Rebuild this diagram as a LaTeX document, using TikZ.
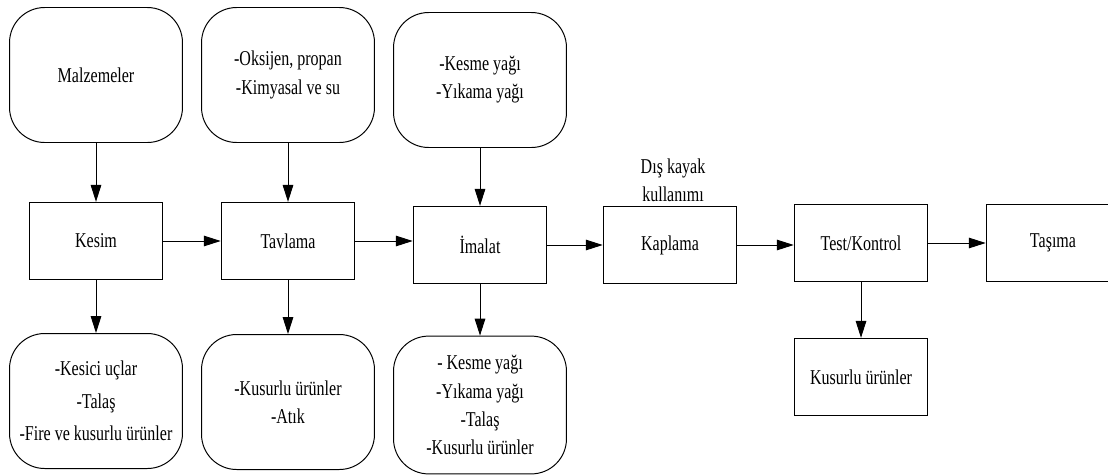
\documentclass[tikz,border=0pt]{standalone}
\usepackage{fontspec}
\setmainfont{Liberation Serif}[FakeStretch=0.76]
\usetikzlibrary{arrows.meta}

\begin{document}
\begin{tikzpicture}[x=0.025cm,y=-0.025cm,line width=0.7pt,
	>={Triangle[length=12pt,width=7.5pt]},
	every node/.style={font=\fontsize{15}{20}\selectfont,align=center},
	procbox/.style={draw,minimum width=95pt,minimum height=55pt},
	resbox/.style={draw,rounded corners=25pt,minimum width=123pt,minimum height=96pt}]
			\useasboundingbox (0,0) rectangle (1108,474);
			% ana akis
			\node[procbox] (kesim) at (96,241) {Kesim};
			\node[procbox] (tavlama) at (288,241) {Tavlama};
			\node[procbox] (imalat) at (480,245) {İmalat};
			\node[procbox] (kaplama) at (670,245) {Kaplama};
			\node[procbox] (test) at (861,243) {Test/Kontrol};
			\node[procbox] (tasima) at (1053,243) {Taşıma};
			% girdiler
			\node[resbox] (malz) at (96,75) {Malzemeler};
			\node[resbox] (oksijen) at (288,75) {-Oksijen, propan\\-Kimyasal ve su};
			\node[resbox] (yaglar) at (480,80) {-Kesme yağı\\-Yıkama yağı};
			\node (diskayak) at (673,180) {Dış kayak\\kullanımı};
			% ciktilar
			\node[resbox,font=\fontsize{15}{23}\selectfont] (kesimout) at (96,401) {-Kesici uçlar\\-Talaş\\-Fire ve kusurlu ürünler};
			\node[resbox] (tavout) at (288,402) {-Kusurlu ürünler\\-Atık};
			\node[resbox,minimum height=98pt] (imout) at (480,405) {- Kesme yağı\\-Yıkama yağı\\-Talaş\\-Kusurlu ürünler};
			\node[procbox] (testout) at (861,377) {Kusurlu ürünler};
			% oklar
			\draw[->] (kesim.east) -- (tavlama.west);
			\draw[->] (tavlama.east) -- (tavlama.east -| imalat.west);
			\draw[->] (imalat.east) -- (kaplama.west);
			\draw[->] (kaplama.east) -- (kaplama.east -| test.west);
			\draw[->] (test.east) -- (tasima.west);
			\draw[->] (malz) -- (kesim);
			\draw[->] (oksijen) -- (tavlama);
			\draw[->] (yaglar) -- (imalat);
			\draw[->] (kesim) -- (kesimout);
			\draw[->] (tavlama) -- (tavout);
			\draw[->] (imalat) -- (imout);
			\draw[->] (test) -- (testout);
		\end{tikzpicture}
\end{document}
